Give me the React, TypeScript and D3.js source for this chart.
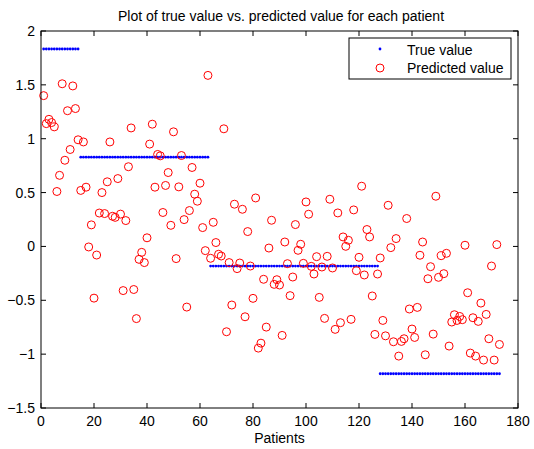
import React from 'react';
import { scaleLinear, range } from 'd3';

// true value levels and the last patient of each level
const trueLevels = [1.833, 0.829, -0.182, -1.182];
const levelEnds = [14, 63, 127, 173];

// predicted value for patients 1..173
const predicted = [
  1.40, 1.14, 1.18, 1.15, 1.11, 0.51, 0.66, 1.51, 0.80, 1.26,
  0.90, 1.49, 1.28, 0.99, 0.52, 0.97, 0.55, -0.005, 0.20, -0.48,
  -0.08, 0.31, 0.50, 0.305, 0.60, 0.97, 0.28, 0.27, 0.63, 0.30,
  -0.41, 0.24, 0.74, 1.10, -0.40, -0.67, -0.12, -0.055, -0.15, 0.08,
  0.95, 1.135, 0.55, 0.854, 0.841, 0.315, 0.566, 0.686, 0.196, 1.064,
  -0.113, 0.553, 0.844, 0.249, -0.563, 0.333, 0.733, 0.485, 0.42, 0.587,
  0.175, -0.039, 1.588, -0.11, 0.224, 0.036, -0.073, -0.089, 1.092, -0.792,
  -0.15, -0.544, 0.392, -0.206, -0.154, 0.345, -0.653, 0.138, -0.182, -0.482,
  0.45, -0.944, -0.898, -0.305, -0.749, -0.015, 0.243, -0.352, -0.309, -0.358,
  -0.826, 0.041, -0.16, -0.457, -0.284, 0.203, -0.036, 0.02, -0.157, 0.413,
  0.299, -0.185, -0.256, -0.095, -0.473, -0.191, -0.668, -0.092, 0.438, -0.2,
  -0.77, 0.311, -0.708, 0.088, 0.001, 0.057, -0.677, 0.339, -0.225, -0.101,
  0.559, -0.265, 0.157, 0.088, -0.46, -0.817, -0.256, -0.107, -0.687, -0.83,
  0.382, -0.011, -0.885, 0.073, -1.018, -0.882, -0.857, 0.259, -0.581, -0.767,
  -0.845, -0.566, -0.082, 0.041, -1.006, -0.3, -0.188, -0.814, 0.466, -0.287,
  -0.086, -0.253, -0.064, -0.925, -0.702, -0.634, -0.687, -0.65, -0.68, 0.011,
  -0.43, -0.99, -0.662, -1.018, -0.696, -0.526, -1.055, -0.631, -0.857, -0.182,
  -1.055, 0.017, -0.91,
];

const xTicks = [0, 20, 40, 60, 80, 100, 120, 140, 160, 180];
const yTicks = [-1.5, -1, -0.5, 0, 0.5, 1, 1.5, 2];

const App = () => {
  const width = 534;
  const height = 449;
  const left = 41;
  const right = 518;
  const top = 31;
  const bottom = 408;
  const fs = 14;

  const x = scaleLinear().domain([0, 180]).range([left, right]);
  const y = scaleLinear().domain([-1.5, 2]).range([bottom, top]);

  const trueValues = range(1, 174).map((p) => {
    const g = levelEnds.findIndex((e) => p <= e);
    return { p, v: trueLevels[g] };
  });

  const font = 'Liberation Sans, Arial, Helvetica, sans-serif';
  const fmt = (t: number) => String(t).replace('-', '\u2212');

  return (
    <svg
      width={width}
      height={height}
      style={{ position: 'absolute', left: 0, top: 0, background: '#fff' }}
      fontFamily={font}
    >
      <text x={281} y={21} textAnchor="middle" fontSize={fs}>
        Plot of true value vs. predicted value for each patient
      </text>

      {trueValues.map((d) => (
        <circle key={'t' + d.p} cx={x(d.p)} cy={y(d.v)} r={1.4} fill="#0000ff" />
      ))}
      {predicted.map((v, i) => (
        <circle
          key={'p' + i}
          cx={x(i + 1)}
          cy={y(v)}
          r={4}
          fill="none"
          stroke="#ff0000"
          strokeWidth={1}
        />
      ))}

      <rect x={left} y={top} width={right - left} height={bottom - top} fill="none" stroke="#000" strokeWidth={1} />

      {xTicks.map((t) => (
        <g key={'x' + t}>
          <line x1={x(t)} x2={x(t)} y1={bottom} y2={bottom - 5} stroke="#000" />
          <line x1={x(t)} x2={x(t)} y1={top} y2={top + 5} stroke="#000" />
          <text x={x(t)} y={bottom + 18} textAnchor="middle" fontSize={fs}>
            {t}
          </text>
        </g>
      ))}
      {yTicks.map((t) => (
        <g key={'y' + t}>
          <line x1={left} x2={left + 5} y1={y(t)} y2={y(t)} stroke="#000" />
          <line x1={right} x2={right - 5} y1={y(t)} y2={y(t)} stroke="#000" />
          <text x={left - 6} y={y(t) + 5} textAnchor="end" fontSize={fs}>
            {fmt(t)}
          </text>
        </g>
      ))}

      <text x={(left + right) / 2} y={443} textAnchor="middle" fontSize={fs}>
        Patients
      </text>

      <g>
        <rect x={349} y={38} width={162} height={41} fill="#fff" stroke="#000" strokeWidth={1} />
        <circle cx={380} cy={49} r={1.4} fill="#0000ff" />
        <circle cx={380} cy={68} r={4} fill="none" stroke="#ff0000" />
        <text x={407} y={55} fontSize={fs}>True value</text>
        <text x={407} y={73} fontSize={fs}>Predicted value</text>
      </g>
    </svg>
  );
};

export default App;
